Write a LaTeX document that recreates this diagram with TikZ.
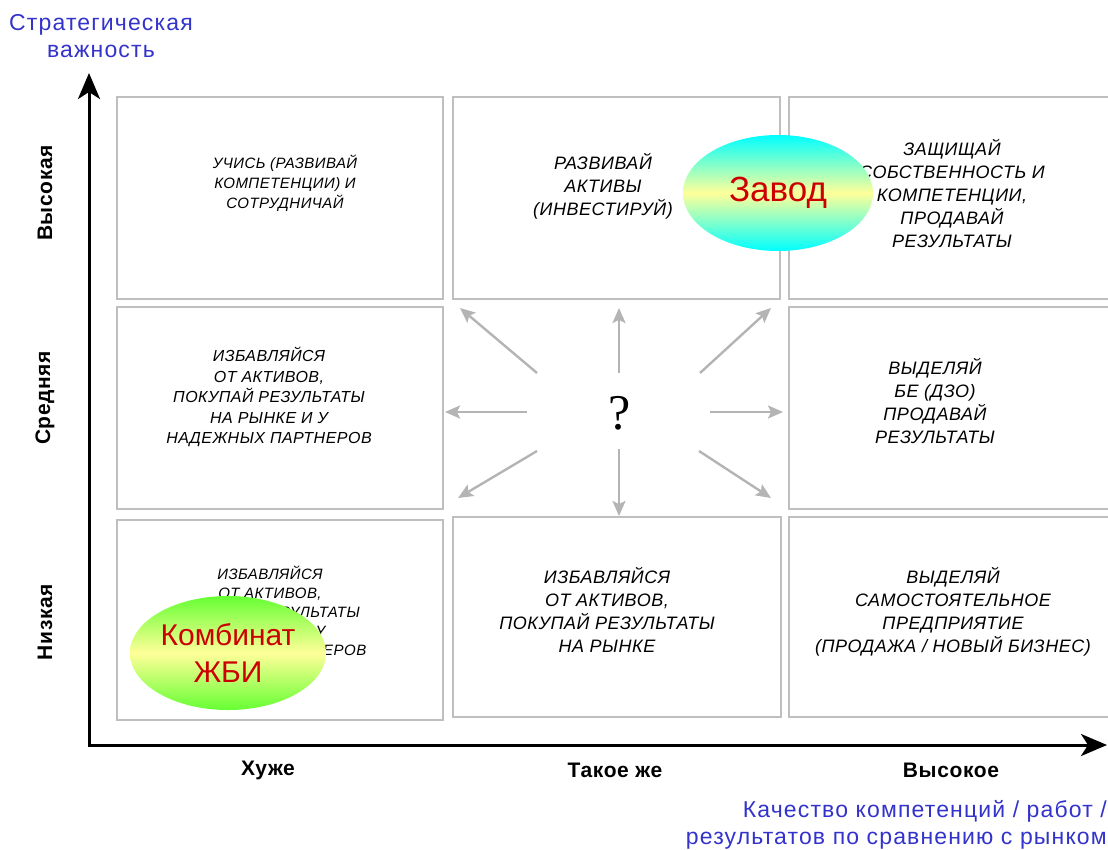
\documentclass[tikz,border=0pt]{standalone}
\usepackage{fontspec}
\setmainfont{Liberation Sans}
\newfontfamily\qfont{Liberation Serif}
\usetikzlibrary{arrows.meta,shapes.geometric}

\definecolor{cellgray}{HTML}{BFBFBF}
\definecolor{raygray}{HTML}{B4B4B4}
\definecolor{axisblue}{HTML}{3333CC}
\definecolor{tagred}{HTML}{CC0000}
\definecolor{paleyellow}{HTML}{FFFF99}
\definecolor{limegreen}{HTML}{66FF33}

\newcommand{\fsz}[2]{\fontsize{#1}{#2}\selectfont}
% spaced italic capitals used inside the cells
\newcommand{\cellfont}[2]{\itshape\addfontfeature{LetterSpace=3}\fsz{#1}{#2}}

\tikzset{
  cellbox/.style={draw=cellgray, line width=2pt},
  celltext/.style={align=center, inner sep=0pt, font=\cellfont{18}{23}},
  ray/.style={draw=raygray, line width=2.4pt, -{Stealth[length=15pt,width=13pt,inset=3pt]}},
  axis/.style={draw=black, line width=3pt, line join=miter,
    {Stealth[length=26pt,width=22pt,inset=7pt]}-{Stealth[length=26pt,width=22pt,inset=7pt]}},
  axlabel/.style={font=\bfseries\addfontfeature{LetterSpace=3}\fsz{21}{24}, inner sep=0pt},
  bluetext/.style={text=axisblue, font=\addfontfeature{LetterSpace=5}\fsz{23}{27.5}, inner sep=0pt},
  tag/.style={ellipse, inner sep=0pt, text=tagred}
}

\begin{document}
\begin{tikzpicture}[x=1pt,y=-1pt]
\useasboundingbox (0,0) rectangle (1108,849);

% grid of strategy cells
\path[cellbox] (117,97)  rectangle (443,299);
\path[cellbox] (453,97)  rectangle (780,299);
\path[cellbox] (789,97)  rectangle (1114,299);
\path[cellbox] (117,307) rectangle (443,509);
\path[cellbox] (789,307) rectangle (1114,509);
\path[cellbox] (117,520) rectangle (443,720);
\path[cellbox] (453,517) rectangle (781,717);
\path[cellbox] (789,517) rectangle (1114,717);

% recommendations inside the cells
\node[celltext, font=\cellfont{15}{20}] (t11) at (285,183)
  {УЧИСЬ (РАЗВИВАЙ\\КОМПЕТЕНЦИИ) И\\СОТРУДНИЧАЙ};
\node[celltext] (t12) at (603,186)
  {РАЗВИВАЙ\\АКТИВЫ\\(ИНВЕСТИРУЙ)};
\node[celltext] (t13) at (952,193)
  {ЗАЩИЩАЙ\\СОБСТВЕННОСТЬ И\\КОМПЕТЕНЦИИ,\\ПРОДАВАЙ\\РЕЗУЛЬТАТЫ};
\node[celltext, font=\cellfont{16}{20.5}] (t21) at (269,397)
  {ИЗБАВЛЯЙСЯ\\ОТ АКТИВОВ,\\ПОКУПАЙ РЕЗУЛЬТАТЫ\\НА РЫНКЕ И У\\НАДЕЖНЫХ ПАРТНЕРОВ};
\node[celltext] (t23) at (935,401)
  {ВЫДЕЛЯЙ\\БЕ (ДЗО)\\ПРОДАВАЙ\\РЕЗУЛЬТАТЫ};
\node[celltext, font=\cellfont{15}{19}] (t31) at (270,612)
  {ИЗБАВЛЯЙСЯ\\ОТ АКТИВОВ,\\ПОКУПАЙ РЕЗУЛЬТАТЫ\\НА РЫНКЕ И У\\НАДЕЖНЫХ ПАРТНЕРОВ};
\node[celltext] (t32) at (607,610)
  {ИЗБАВЛЯЙСЯ\\ОТ АКТИВОВ,\\ПОКУПАЙ РЕЗУЛЬТАТЫ\\НА РЫНКЕ};
\node[celltext] (t33) at (953,612)
  {ВЫДЕЛЯЙ\\САМОСТОЯТЕЛЬНОЕ\\ПРЕДПРИЯТИЕ\\(ПРОДАЖА / НОВЫЙ БИЗНЕС)};

% the open question in the centre and the possible moves
\node[font=\qfont\fsz{50}{50}, inner sep=0pt] (q) at (620,413) {?};
\coordinate (s-nw) at (537,373); \coordinate (e-nw) at (460,308);
\coordinate (s-n)  at (619,373); \coordinate (e-n)  at (619,308);
\coordinate (s-ne) at (700,373); \coordinate (e-ne) at (771,308);
\coordinate (s-w)  at (527,412); \coordinate (e-w)  at (445,412);
\coordinate (s-e)  at (710,412); \coordinate (e-e)  at (783,412);
\coordinate (s-sw) at (537,451); \coordinate (e-sw) at (458,498);
\coordinate (s-s)  at (619,449); \coordinate (e-s)  at (619,516);
\coordinate (s-se) at (699,451); \coordinate (e-se) at (771,498);
\foreach \d in {nw,n,ne,w,e,sw,s,se}
  \draw[ray] (s-\d) -- (e-\d);

% current positions of the two plants
\node[tag, minimum width=190, minimum height=116,
      top color=cyan, bottom color=cyan, middle color=paleyellow,
      font=\fsz{35}{40}] (zavod) at (778,193) {Завод};
\node[tag, minimum width=196, minimum height=114, align=center,
      top color=limegreen, bottom color=limegreen, middle color=paleyellow,
      font=\fsz{30}{37}] (kombinat) at (228,653) {Комбинат\\ЖБИ};

% axes
\coordinate (ytip) at (89,73);
\coordinate (origin) at (89,745);
\coordinate (xtip) at (1107,745);
\draw[axis] (ytip) -- (origin) -- (xtip);

\node[axlabel] (lx1) at (268,770) {Хуже};
\node[axlabel] (lx2) at (615,770) {Такое же};
\node[axlabel] (lx3) at (951,770) {Высокое};
\node[axlabel, rotate=90] (ly1) at (45,193) {Высокая};
\node[axlabel, rotate=90] (ly2) at (45,398) {Средняя};
\node[axlabel, rotate=90] (ly3) at (45,622) {Низкая};

\node[bluetext, align=center] (ytitle) at (101,36) {Стратегическая\\важность};
\node[bluetext, align=right, anchor=east] (xtitle) at (1107,825)
  {Качество компетенций / работ /\\результатов по сравнению с рынком};
\end{tikzpicture}
\end{document}
